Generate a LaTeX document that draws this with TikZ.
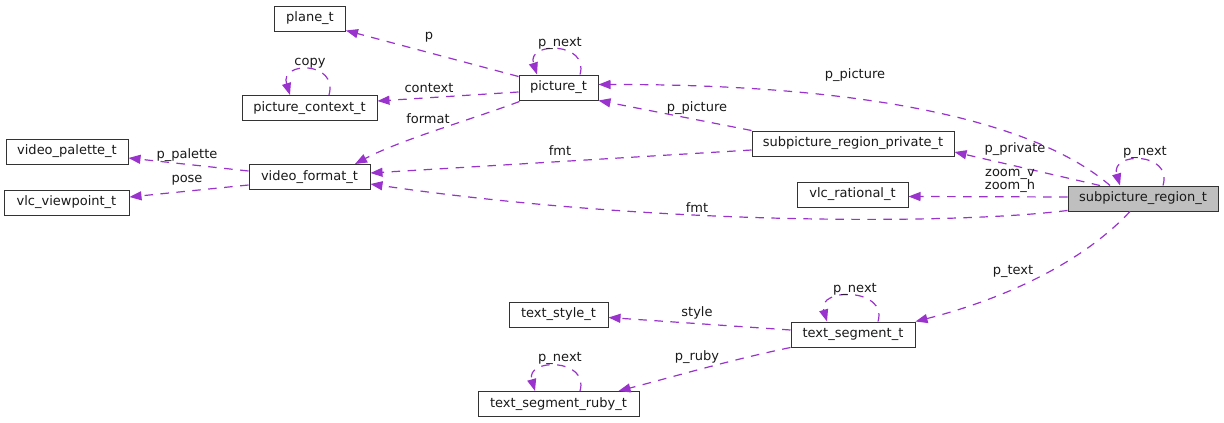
\documentclass[tikz,border=0pt]{standalone}
\usepackage{fontspec}
\setmainfont{DejaVu Sans}
\usetikzlibrary{arrows.meta,calc}
\definecolor{edgec}{HTML}{9A32CD}
\definecolor{regfill}{HTML}{BFBFBF}
\tikzset{
  cls/.style={draw=black!80, line width=1pt, fill=white, minimum height=25pt, inner sep=0pt, font=\fontsize{13}{15}\selectfont, text=black!90},
  lbl/.style={inner sep=0pt, font=\fontsize{13}{13.5}\selectfont, text=black!90, align=center},
  rel/.style={draw=edgec, line width=1.2pt, dash pattern=on 8.5pt off 7.5pt, -{Triangle[length=12pt,width=9pt,fill=edgec]}},
}
\begin{document}
\begin{tikzpicture}[x=1pt,y=-1pt]
\useasboundingbox (0,0) rectangle (1224,423);
% nodes
\node[cls, minimum width=71] (plane) at (310,18.5) {plane\_t};
\node[cls, minimum width=135] (pcx) at (309.5,108) {picture\_context\_t};
\node[cls, minimum width=122] (vpal) at (67,151.5) {video\_palette\_t};
\node[cls, minimum width=121] (vf) at (309.5,177) {video\_format\_t};
\node[cls, minimum width=125] (vvp) at (66.5,202.5) {vlc\_viewpoint\_t};
\node[cls, minimum width=79] (pic) at (558.5,87.5) {picture\_t};
\node[cls, minimum width=202] (priv) at (853,143.5) {subpicture\_region\_private\_t};
\node[cls, minimum width=111] (vrat) at (852.5,194.5) {vlc\_rational\_t};
\node[cls, minimum width=150, fill=regfill] (reg) at (1143,198.5) {subpicture\_region\_t};
\node[cls, minimum width=99] (tsty) at (558.5,314.5) {text\_style\_t};
\node[cls, minimum width=124] (tseg) at (853,334.5) {text\_segment\_t};
\node[cls, minimum width=161] (truby) at (558.5,404) {text\_segment\_ruby\_t};
% edges
\draw[rel] ($(pic.north west)+(0,2)$) -- ($(plane.south east)+(0,-1)$);
\draw[rel] ($(pic.west)+(0,4.5)$) -- ($(pcx.east)+(0,-7)$);
\draw[rel] ($(pic.south west)+(1,1)$) .. controls (470,120) and (400,140) .. ($(vf.north)+(45.5,0)$);
\draw[rel] ($(pic.north)+(21.5,0)$) .. controls ($(pic.north)+(31,-33)$) and ($(pic.north)+(-32,-33)$) .. ($(pic.north)+(-21.5,0)$);
\draw[rel] ($(pcx.north)+(19.5,0)$) .. controls ($(pcx.north)+(29,-34)$) and ($(pcx.north)+(-30,-34)$) .. ($(pcx.north)+(-19.5,0)$);
\draw[rel] ($(vf.west)+(0,-6)$) -- ($(vpal.east)+(0,6.5)$);
\draw[rel] ($(vf.west)+(0,8)$) -- ($(vvp.east)+(0,-5.5)$);
\draw[rel] (priv.north west) -- (pic.south east);
\draw[rel] ($(priv.west)+(0,6.5)$) -- ($(vf.east)+(0,-4)$);
\draw[rel] ($(reg.north)+(-33,0)$) .. controls (1040,125) and (880,84) .. ($(pic.east)+(0,-3)$);
\draw[rel] ($(reg.north)+(-43,0)$) -- ($(priv.east)+(0,8.5)$);
\draw[rel] ($(reg.west)+(0,-1.5)$) -- ($(vrat.east)+(0,2)$);
\draw[rel] ($(reg.south west)+(0,-1)$) .. controls (950,225) and (650,225) .. ($(vf.east)+(0,7)$);
\draw[rel] ($(reg.north)+(20,0)$) .. controls ($(reg.north)+(30,-34)$) and ($(reg.north)+(-33,-34)$) .. ($(reg.north)+(-23,0)$);
\draw[rel] ($(reg.south)+(-13,0)$) .. controls (1080,265) and (1000,300) .. (tseg.north east);
\draw[rel] ($(tseg.west)+(0,-4.5)$) -- ($(tsty.east)+(0,3)$);
\draw[rel] (tseg.south west) .. controls (730,360) and (680,375) .. ($(truby.north)+(60,0)$);
\draw[rel] ($(tseg.north)+(25,0)$) .. controls ($(tseg.north)+(35,-34)$) and ($(tseg.north)+(-36,-34)$) .. ($(tseg.north)+(-26,0)$);
\draw[rel] ($(truby.north)+(21.5,0)$) .. controls ($(truby.north)+(31,-33)$) and ($(truby.north)+(-33,-33)$) .. ($(truby.north)+(-23.5,0)$);
% labels
\node[lbl] (l1) at (429,37) {p};
\node[lbl] (l2) at (429,88) {context};
\node[lbl] (l3) at (428,119) {format};
\node[lbl] (l4) at (560,43) {p\_next};
\node[lbl] (l5) at (310,63) {copy};
\node[lbl] (l6) at (187,155) {p\_palette};
\node[lbl] (l7) at (187,180) {pose};
\node[lbl] (l8) at (697,108) {p\_picture};
\node[lbl] (l9) at (560,151) {fmt};
\node[lbl] (l10) at (855,75) {p\_picture};
\node[lbl] (l11) at (1015,149) {p\_private};
\node[lbl] (l12) at (1010,181) {zoom\_v\\zoom\_h};
\node[lbl] (l13) at (697,208) {fmt};
\node[lbl] (l14) at (1145,152) {p\_next};
\node[lbl] (l15) at (1013,271) {p\_text};
\node[lbl] (l16) at (697,313) {style};
\node[lbl] (l17) at (697,357) {p\_ruby};
\node[lbl] (l18) at (855,289) {p\_next};
\node[lbl] (l19) at (560,358) {p\_next};
\end{tikzpicture}
\end{document}
